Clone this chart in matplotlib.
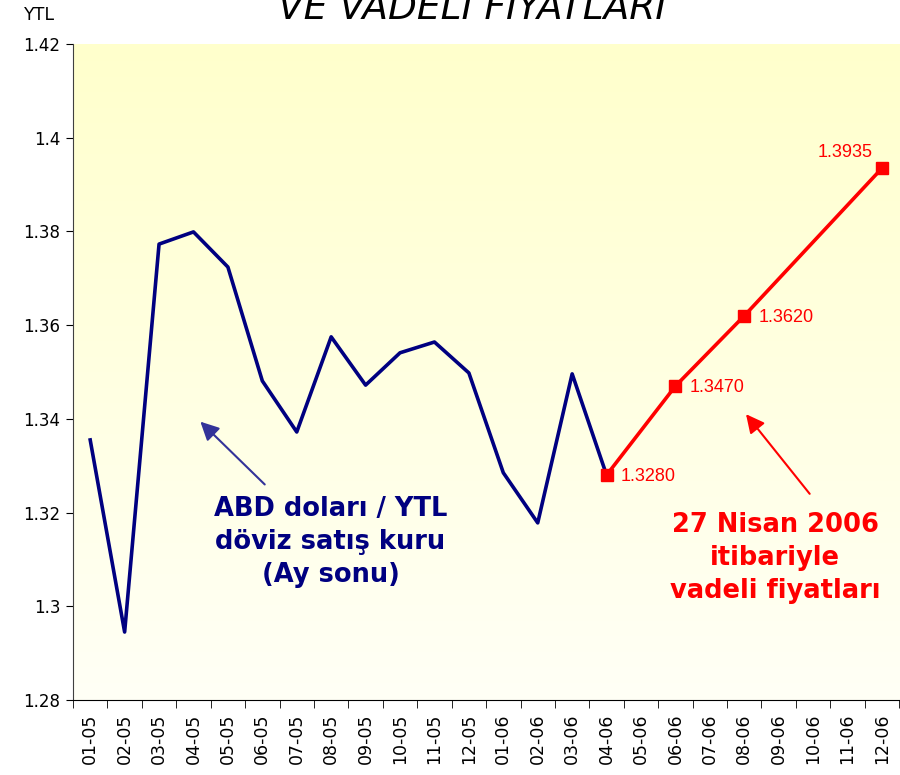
import matplotlib.pyplot as plt
import numpy as np
from matplotlib.colors import LinearSegmentedColormap

plt.rcParams['font.family'] = ['DejaVu Sans']

# aylar (ay-yıl)
months = ['01-05', '02-05', '03-05', '04-05', '05-05', '06-05', '07-05', '08-05',
          '09-05', '10-05', '11-05', '12-05', '01-06', '02-06', '03-06', '04-06',
          '05-06', '06-06', '07-06', '08-06', '09-06', '10-06', '11-06', '12-06']

# ABD doları / YTL ay sonu kuru (01-05 .. 04-06)
spot = [1.3355, 1.2945, 1.3773, 1.3799, 1.3724, 1.3481, 1.3372, 1.3575,
        1.3472, 1.3541, 1.3564, 1.3498, 1.3285, 1.3178, 1.3496, 1.3280]

# 27 Nisan 2006 itibariyle vadeli fiyatlar
fwd_months = ['04-06', '06-06', '08-06', '12-06']
fwd_values = [1.3280, 1.3470, 1.3620, 1.3935]

navy = '#000080'
red = '#FF0000'

fig = plt.figure(figsize=(9, 7.75), dpi=100)
ax = fig.add_axes([0.0811, 0.0968, 0.918, 0.8464])

x = np.arange(len(months))
xf = [months.index(m) for m in fwd_months]

# arka plan: sarıdan açık krem rengine geçiş
cmap = LinearSegmentedColormap.from_list('bg', ['#FFFFF6', '#FFFFCC'])
grad = np.linspace(0, 1, 256).reshape(-1, 1)
ax.imshow(grad, cmap=cmap, origin='lower', aspect='auto',
          extent=(-0.5, len(months) - 0.5, 1.28, 1.42), zorder=0)

ax.plot(x[:len(spot)], spot, color=navy, lw=2.6, zorder=3)
ax.plot(xf, fwd_values, color=red, lw=2.6, marker='s', markersize=8, zorder=4)

# vadeli fiyat etiketleri
for xi, v in zip(xf, fwd_values):
    if xi == xf[-1]:
        ax.annotate(f'{v:.4f}', (xi, v), xytext=(-7, 11), textcoords='offset points',
                    ha='right', va='center', color=red, fontsize=13,
                    family=['Liberation Sans'])
    else:
        ax.annotate(f'{v:.4f}', (xi, v), xytext=(10, -1), textcoords='offset points',
                    ha='left', va='center', color=red, fontsize=13,
                    family=['Liberation Sans'])

ax.set_xlim(-0.5, len(months) - 0.5)
ax.set_ylim(1.28, 1.42)

ax.set_yticks(np.arange(1.28, 1.4201, 0.02))
ax.set_yticklabels(['1.28', '1.3', '1.32', '1.34', '1.36', '1.38', '1.4', '1.42'])
ax.tick_params(axis='y', direction='out', length=5, labelsize=12, pad=4)

ax.set_xticks(x)
ax.set_xticklabels(months, rotation=90, fontsize=12.5)
ax.set_xticks(np.arange(-0.5, len(months)), minor=True)
ax.tick_params(axis='x', which='major', length=0, pad=10)
ax.tick_params(axis='x', which='minor', direction='out', length=6)

for s in ['top', 'right']:
    ax.spines[s].set_visible(False)
ax.spines['left'].set_color('#404040')

# açıklama metinleri ve oklar
ax.text(6.98, 1.3137, 'ABD doları / YTL\ndöviz satış kuru\n(Ay sonu)', ha='center', va='center',
        color=navy, fontsize=18.5, fontweight='bold', linespacing=1.35)
ax.annotate('', xy=(3.2, 1.3394), xytext=(5.07, 1.3260),
            arrowprops=dict(arrowstyle='-|>', color='#333399', lw=1.5,
                            mutation_scale=28, shrinkA=0, shrinkB=0))

ax.text(19.9, 1.3102, '27 Nisan 2006\nitibariyle\nvadeli fiyatları', ha='center', va='center',
        color=red, fontsize=18.5, fontweight='bold', linespacing=1.35)
ax.annotate('', xy=(19.05, 1.3410), xytext=(20.9, 1.3240),
            arrowprops=dict(arrowstyle='-|>', color=red, lw=1.5,
                            mutation_scale=28, shrinkA=0, shrinkB=0))

fig.text(0.044, 0.980, 'YTL', ha='center', va='center', fontsize=12.5)
fig.text(0.525, 0.988, 'VE VADELİ FİYATLARI', ha='center', va='center', fontsize=27,
         style='italic', family=['Liberation Sans Narrow', 'DejaVu Sans'])

fig.savefig('out.png', dpi=100)
